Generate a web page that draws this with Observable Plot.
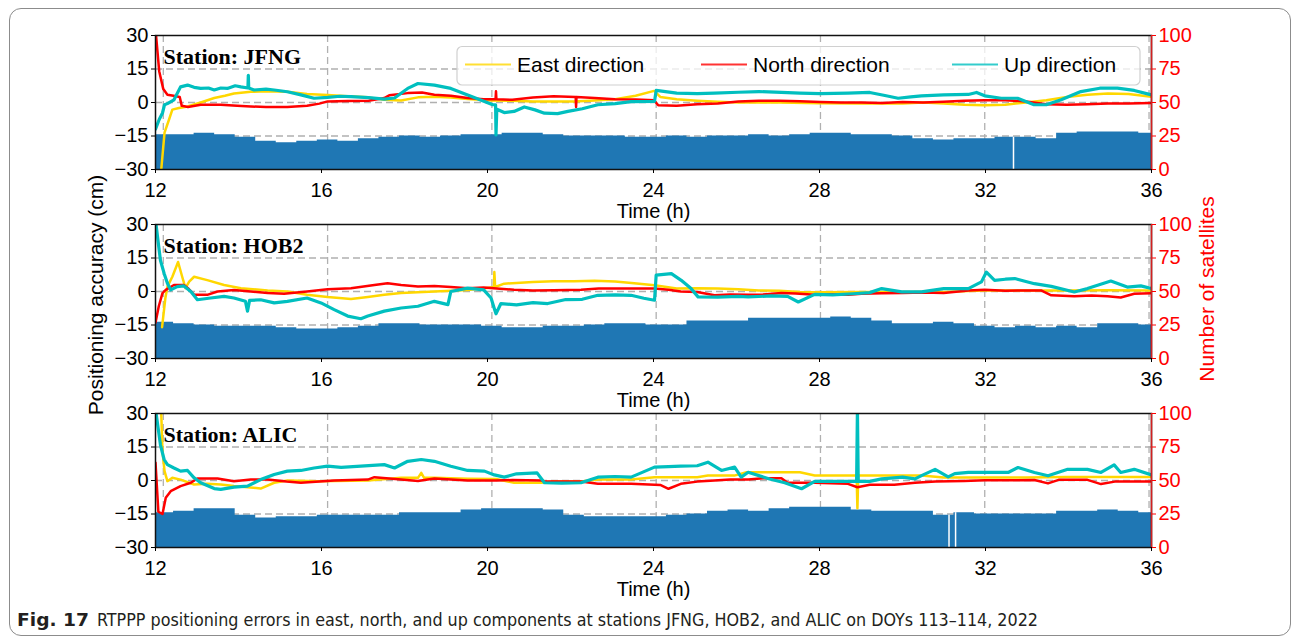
<!DOCTYPE html>
<html><head><meta charset="utf-8">
<script src="https://cdn.jsdelivr.net/npm/d3@7"></script>
<script src="https://cdn.jsdelivr.net/npm/@observablehq/plot@0.6"></script>
<style>
html,body{margin:0;padding:0;background:#fff;}
#fig{position:relative;width:1292px;height:643px;overflow:hidden;font-family:"Liberation Sans",Arial,sans-serif;}
#border{position:absolute;left:9px;top:8px;width:1282px;height:628px;border:1px solid #8c8c8c;border-radius:12px;box-sizing:border-box;}
.panel{position:absolute;left:0;width:1292px;height:224px;}
.panel svg{overflow:visible;}
#overlay{position:absolute;left:0;top:0;}
</style></head><body>
<div id="fig"><div id="border"></div></div>
<script>
// ---------- data (time in hours, errors in cm, satellites count) ----------
const stationNames = ["Station: JFNG", "Station: HOB2", "Station: ALIC"];
const seriesNames = ["East direction", "North direction", "Up direction"];
const xTickLabels = [12, 16, 20, 24, 28, 32, 36];
const yTickLabels = [-30, -15, 0, 15, 30];
const satTickLabels = [0, 25, 50, 75, 100];

const jfngEast = [[11.8,-40],[11.95,-30],[12.03,-13.5],[12.14,-7.6],[12.22,-3.2],[12.38,-2.5],[12.59,-1.8],[12.91,0],[13.24,2],[13.5,3],[13.72,4],[14.13,4.8],[14.5,5],[15.02,4.8],[15.5,3.8],[16,3.4],[16.5,2.8],[16.98,2.3],[17.38,1.2],[17.79,0.9],[18.2,2.3],[18.6,2.6],[19,2.2],[19.41,1.6],[19.98,0.9],[20.5,0.8],[21,0.5],[21.5,0.4],[22,0.5],[22.5,0.9],[23,1.5],[23.5,3],[23.95,5.2],[24.1,2.5],[24.5,1.5],[25,0.8],[25.5,0.3],[26,0],[27,0],[28,-0.3],[29,-0.5],[30,-0.5],[30.5,0],[31,-0.5],[31.5,-1],[32,-1.2],[32.5,-1],[33,0],[33.5,1],[34,2.5],[34.5,3.5],[35,4],[35.5,3.8],[36.06,2.5]];
const jfngNorth = [[11.8,35],[11.9,14],[12,6],[12.1,3.5],[12.25,3],[12.4,2.5],[12.45,-1.5],[12.6,-2],[12.91,-1],[13.4,-1],[13.8,-1.5],[14.13,-1.8],[14.5,-2],[15.02,-2],[15.5,-1.5],[15.8,-0.5],[16,0.5],[16.5,0.7],[17,0.8],[17.38,2],[17.5,3.2],[17.95,4.2],[18.3,4.5],[18.6,3.5],[19,3],[19.41,2],[19.8,1.5],[20.09,1.5],[20.1,5],[20.11,1.5],[20.5,1.2],[21,2.2],[21.5,2.8],[22.04,2.5],[22.05,-2],[22.06,2.5],[22.5,2],[23,1.5],[23.5,1.3],[23.95,1],[24.05,-1.2],[24.5,-1.5],[25,-0.8],[25.5,-0.5],[26,0.5],[26.5,0.8],[27,0.8],[27.5,0.6],[28,0.2],[28.5,0],[29,0],[29.5,-0.2],[30,0.2],[30.5,0],[31,0.3],[31.5,0.8],[32,1],[32.5,1],[33,0.5],[33.5,-0.8],[34,-1],[34.5,-0.8],[35,-0.5],[35.5,-0.4],[36.06,-0.2]];
const jfngUp = [[11.81,-12],[11.9,-7.6],[11.98,-4.7],[12.03,-1],[12.1,-0.5],[12.26,1.2],[12.42,7],[12.59,7.8],[12.75,6.8],[12.91,6.3],[13.1,6.5],[13.24,5.6],[13.4,6.5],[13.56,6.3],[13.75,7.5],[13.89,7],[14.06,6.5],[14.07,12.2],[14.08,6.5],[14.21,5.6],[14.5,6],[14.7,5.6],[15.02,4.8],[15.35,3.4],[15.67,1.9],[16,2.3],[16.3,2.8],[16.57,2.6],[17,2.2],[17.38,1.5],[17.63,2],[17.95,6.3],[18.2,8.5],[18.6,7.8],[19,6.3],[19.41,3.4],[19.82,0.4],[20.02,-1],[20.09,-1],[20.1,-14.5],[20.12,-3],[20.3,-4.5],[20.54,-4],[20.79,-2],[21.05,-3.3],[21.28,-4.8],[21.6,-5],[21.85,-4],[22.2,-2.8],[22.58,-1],[23,-0.5],[23.39,0.4],[23.96,0.5],[24.0,5.4],[24.5,4.2],[25,4],[25.42,4.2],[26,4.6],[26.5,4.9],[27.05,4.5],[27.5,4.2],[28,4],[28.67,4.2],[29.2,4.5],[29.6,3],[29.89,1.9],[30.2,2.5],[30.46,3],[31,3.4],[31.6,3.6],[31.8,4.5],[32,3],[32.4,1.9],[32.8,1.9],[33.2,-1],[33.5,-1],[33.86,1.2],[34.34,4.9],[34.8,6.4],[35.23,6.4],[35.64,5.4],[36.06,3.4]];
const jfngSats = [26,26,27,26,24,21,20,21,22,21,23,24,25,24,25,26,26,27,27,26,25,25,25,24,24,25,24,25,25,26,25,26,27,27,26,26,25,23,22,23,23,24,24,23,27,28,28,28,27];
const jfngGaps = [32.7];

const hob2East = [[11.97,-16],[12.05,-3],[12.1,2.2],[12.22,6.6],[12.36,13.2],[12.46,6.6],[12.54,1.5],[12.63,4.4],[12.75,6.6],[13.07,5.1],[13.48,2.9],[13.89,1.5],[14.54,0.4],[15.02,0],[15.5,-1.5],[16,-2.5],[16.57,-3.4],[16.98,-2.5],[17.38,-1.5],[17.79,-0.7],[18.6,0],[19.41,0.7],[19.82,1.5],[20.05,2],[20.06,8.7],[20.08,2],[20.3,3.5],[21,4.2],[21.5,4.6],[22,4.6],[22.5,4.8],[23,4.5],[23.4,3.8],[23.96,2.8],[24.5,1.3],[25,1.5],[25.5,1.3],[26,1.0],[26.5,0.5],[27,0.3],[27.5,-0.2],[28,-0.3],[29,-0.2],[30,-0.2],[31,-0.2],[31.6,0.2],[32,0.5],[33,0.5],[34,0.5],[35,0.6],[36.06,0.5]];
const hob2North = [[11.81,-14],[11.89,-6.6],[11.98,-0.7],[12.06,0.7],[12.26,2.9],[12.5,2.9],[12.6,1.5],[12.75,-1.5],[13.07,-1.5],[13.32,0],[13.72,0.7],[14.13,0],[14.54,-0.7],[14.94,-1],[15.5,0],[16,1],[16.57,1.5],[17.14,2.9],[17.46,3.7],[17.79,2.9],[18.2,2.2],[18.6,2.5],[19,2],[19.41,1.5],[19.8,1.8],[20.2,1.2],[20.54,0.8],[21,0.5],[21.5,0.6],[22.17,0.8],[22.6,1.3],[23.2,1.3],[23.96,1.3],[24.3,0.8],[24.6,0],[25,-0.2],[25.42,-1.7],[25.8,-1.3],[26.24,-1.5],[26.6,-1.3],[27.05,-0.7],[27.4,-0.9],[27.86,-1.5],[28.2,-1.2],[28.67,-1.5],[29,-1],[29.49,-0.8],[30,-0.7],[30.5,-0.5],[31,-0.7],[31.6,0.5],[32,0.8],[32.5,0.3],[33,0.5],[33.37,0.5],[33.62,-1.7],[34.18,-2.1],[34.6,-1.8],[34.99,-2.1],[35.31,-2.7],[35.64,-1],[36.06,-0.8]];
const hob2Up = [[11.81,32],[11.89,19.9],[11.93,14],[12.02,8.1],[12.1,3.7],[12.18,0.7],[12.34,2.2],[12.5,2.5],[12.67,0],[12.83,-3.7],[13.15,-2.9],[13.48,-2.2],[13.72,-2.9],[14.0,-4.4],[14.05,-8.8],[14.1,-4],[14.37,-3.7],[14.7,-5.1],[15.02,-4.4],[15.5,-2.9],[15.84,-5.1],[16.16,-8.1],[16.49,-11],[16.81,-12.2],[16.98,-11],[17.38,-8.8],[17.79,-7.4],[18.2,-6.6],[18.6,-4.4],[18.93,-5.9],[19.0,0],[19.41,1.5],[19.8,0.7],[19.98,-2.9],[20.06,-7.7],[20.1,-10],[20.22,-5.4],[20.6,-6],[21,-5],[21.36,-5.4],[21.8,-3.6],[22.2,-3.5],[22.58,-1.7],[23,-1.5],[23.39,-1.7],[23.7,-3],[23.96,-3.9],[24.0,7.3],[24.37,8],[24.61,5],[24.85,1.3],[25.02,-2.4],[25.5,-2.5],[26,-2.2],[26.24,-2.4],[26.8,-2.0],[27.2,-2.2],[27.46,-4.7],[27.86,-1.3],[28.3,-1.5],[28.8,-1.0],[29.2,-0.5],[29.49,1.3],[29.98,-0.2],[30.46,-0.2],[31,1.3],[31.6,1.3],[31.92,4.3],[32.04,8.7],[32.24,5],[32.5,5.5],[32.73,5.8],[33.0,4.5],[33.21,3.5],[33.62,2.3],[34.18,-0.2],[34.5,1.3],[35.07,4.7],[35.47,2],[35.8,2.5],[36.06,1.3]];
const hob2Sats = [27,26,25,24,24,24,23,22,22,23,24,26,26,25,25,25,24,23,23,24,24,25,26,26,25,25,28,28,28,30,30,30,30,31,30,28,26,26,27,26,24,23,24,23,24,23,26,26,25];
const hob2Gaps = [];

const alicEast = [[11.81,32],[11.95,30],[11.98,13],[12.03,4.2],[12.1,-0.3],[12.22,1.2],[12.42,0.4],[12.75,-1.8],[13.07,-1.5],[13.4,-1.8],[13.72,-2.5],[14.05,-3],[14.37,-3.6],[14.7,-1],[15.02,0],[15.76,-0.3],[16.98,0],[17.79,1.2],[18.2,1.2],[18.28,3.4],[18.35,1.2],[18.6,1.2],[19.41,0.8],[20.1,0.7],[20.54,-1],[21.2,-1],[21.5,-0.4],[22.17,-0.4],[22.6,0.4],[23.39,0.4],[23.96,1.5],[25,1.5],[25.26,2.2],[25.9,2.2],[26.2,3.7],[27.5,3.7],[27.86,2.2],[28.67,2.2],[28.88,2.2],[28.9,-12.4],[28.92,2.2],[29.5,2.2],[30.46,2.2],[31,1.3],[32,1.3],[33,1.3],[34,1.6],[35,1.6],[36.06,1.6]];
const alicNorth = [[11.81,8],[11.88,-14],[11.98,-15],[12.06,-7.7],[12.18,-4.8],[12.42,-2.5],[12.67,-1],[12.83,0.9],[13.32,0.9],[13.72,-0.3],[14.13,0.4],[14.54,0.4],[15,-0.5],[15.35,-1],[16.16,0],[16.98,0.4],[17.14,1.5],[17.79,0.4],[18.2,-0.2],[18.6,0.9],[19.41,0],[20.1,0],[20.5,0.2],[21.2,0],[21.28,-0.4],[22.17,-0.4],[22.58,-1.5],[23.39,-1.5],[23.96,-1.9],[24.1,-2],[24.3,-3.7],[24.6,-1.5],[25,-0.5],[25.42,0],[25.8,0.4],[26.24,0.5],[26.6,1],[27.05,1],[27.2,-1],[27.86,-1],[28.67,-1.5],[28.9,-3],[29.2,-1.9],[29.8,-1.9],[30.3,-1],[30.8,-0.4],[31.5,-0.2],[32,0.1],[32.8,0.1],[33.21,0.2],[33.54,-1.3],[33.8,0.3],[34.5,0.3],[34.83,-1.6],[35.2,-0.4],[35.6,-0.4],[36.06,-0.4]];
const alicUp = [[11.81,32],[11.93,16],[12.02,9.4],[12.1,7.1],[12.26,5.6],[12.42,4.2],[12.59,4.5],[12.75,1.2],[12.91,-1],[13.24,-3.6],[13.4,-4],[13.72,-3],[14.05,-2.5],[14.37,0.4],[14.7,2.7],[15.02,4.2],[15.35,4.5],[15.67,5.6],[16,6.4],[16.33,5.9],[16.81,6.4],[17.38,7.1],[17.63,5.6],[17.95,8.6],[18.28,9.4],[18.6,8.6],[19,6.4],[19.41,4.5],[19.82,4.2],[20.06,2.5],[20.3,1.5],[20.6,3],[21.1,3.4],[21.28,-1],[21.7,-1.2],[22.17,-1],[22.58,1.5],[23.0,1.8],[23.39,1.5],[23.96,6],[24.3,6.2],[24.6,6.4],[25,6.6],[25.26,8.2],[25.59,4.5],[25.91,6],[26.07,1.5],[26.24,3.7],[26.76,0.7],[27.13,-1],[27.54,-3.7],[27.86,-0.4],[28.3,-0.4],[28.67,-0.4],[28.88,-0.4],[28.9,32],[28.92,-0.4],[29.2,-0.4],[29.49,0.7],[30,1.5],[30.3,0.7],[30.46,2.2],[30.79,5],[31.11,1.6],[31.27,3.1],[31.6,3.6],[32.57,3.6],[32.81,5.8],[33.21,3.6],[33.54,2.1],[34.02,5],[34.5,5],[34.83,3.6],[35.15,7],[35.31,3.6],[35.64,5],[36.06,2.5]];
const alicSats = [26,27,29,29,24,22,23,23,24,24,24,24,26,26,26,28,29,29,29,28,24,23,23,23,23,24,25,27,28,27,29,30,30,30,28,27,27,27,24,26,25,25,25,25,27,27,28,27,26];
const alicGaps = [31.13, 31.29];

const seriesColors = ["#FFD700", "#FF0000", "#00BFBF"];
const satStart = 11.75, satStep = 0.5;

// ---------- scales helpers ----------
const xDomain = [11.81, 36.06];
const yDomain = [-30, 30];
const satToY = s => -30 + s * 0.6;          // right axis 0..100 onto left -30..30
const yToSat = y => Math.round((y + 30) / 0.6);
const labelPos = L => xDomain[0] + (L - 12) * (xDomain[1] - xDomain[0]) / 24;
const posLabel = p => Math.round(12 + (p - xDomain[0]) * 24 / (xDomain[1] - xDomain[0]));
const gridX = d3.range(12, 36.001, 4);
const gridY = [-15, 0, 15];

const stations = [
  {name: stationNames[0], series: [jfngEast, jfngNorth, jfngUp], sats: jfngSats, gaps: jfngGaps},
  {name: stationNames[1], series: [hob2East, hob2North, hob2Up], sats: hob2Sats, gaps: hob2Gaps},
  {name: stationNames[2], series: [alicEast, alicNorth, alicUp], sats: alicSats, gaps: alicGaps}
];
const panelTops = [0, 189, 378];
const FONT = "'Liberation Sans', Arial, Helvetica, sans-serif";
const fig = document.getElementById("fig");

stations.forEach((st, i) => {
  const satPts = st.sats.map((s, k) => ({t: satStart + k * satStep, y: satToY(s)}));
  satPts.push({t: satStart + st.sats.length * satStep, y: satToY(st.sats[st.sats.length - 1])});
  const gapPts = st.gaps.map(t => ({t, y: satToY(st.sats[Math.floor((t - satStart) / satStep)])}));
  const lineMarks = st.series.map((arr, k) => Plot.line(arr.map(([t, v]) => ({t, v})), {
    x: "t", y: "v", stroke: seriesColors[k], strokeWidth: k === 2 ? 3.2 : 2.5, clip: true, strokeLinejoin: "round"
  }));
  const svg = Plot.plot({
    width: 1292, height: 224,
    marginLeft: 155, marginRight: 141, marginTop: 35, marginBottom: 55,
    x: {domain: xDomain},
    y: {domain: yDomain},
    style: {fontFamily: FONT, fontSize: "20px", color: "#000", background: "transparent", overflow: "visible"},
    marks: [
      Plot.ruleX(gridX, {stroke: "#b0b0b0", strokeWidth: 1.3, strokeDasharray: "7,4"}),
      Plot.ruleY(gridY, {stroke: "#b0b0b0", strokeWidth: 1.3, strokeDasharray: "7,4"}),
      Plot.areaY(satPts, {x: "t", y1: -30, y2: "y", curve: "step-after", fill: "#1f77b4", clip: true}),
      Plot.ruleX(gapPts, {x: "t", y1: -30, y2: "y", stroke: "white", strokeWidth: 1.5}),
      ...lineMarks,
      Plot.frame({stroke: "#111", strokeWidth: 1.5}),
      Plot.ruleX([xDomain[1]], {stroke: "#d42020", strokeWidth: 1.5}),
      Plot.axisY(yTickLabels, {anchor: "left", tickSize: 4, tickPadding: 3, label: null, fontSize: 20}),
      Plot.axisY(satTickLabels.map(satToY), {anchor: "right", tickSize: 4, tickPadding: 3, label: null,
        tickFormat: yToSat, color: "#ff0000", fontSize: 20}),
      Plot.axisX(xTickLabels.map(labelPos), {anchor: "bottom", tickSize: 4, tickPadding: 9, label: null,
        tickFormat: posLabel, fontSize: 20}),
      Plot.text(["Time (h)"], {text: d => d, frameAnchor: "bottom", dy: 42, fontSize: 20, lineAnchor: "middle"}),
      Plot.text([st.name], {text: d => d, frameAnchor: "top-left", dx: 8, dy: 21, textAnchor: "start",
        lineAnchor: "middle", fontFamily: "'Liberation Serif', 'Times New Roman', serif", fontWeight: "bold", fontSize: 22})
    ]
  });
  const div = document.createElement("div");
  div.className = "panel";
  div.style.top = panelTops[i] + "px";
  div.appendChild(svg);
  fig.appendChild(div);
});

// ---------- overlay: shared axis titles, legend, caption ----------
const ov = d3.select(fig).append("svg").attr("id", "overlay").attr("width", 1292).attr("height", 643)
  .style("font-family", FONT);
ov.append("text").attr("transform", "translate(97,295) rotate(-90)").attr("text-anchor", "middle")
  .attr("dominant-baseline", "middle").attr("font-size", 21).attr("fill", "#000").text("Positioning accuracy (cm)");
ov.append("text").attr("transform", "translate(1208,289) rotate(-90)").attr("text-anchor", "middle")
  .attr("dominant-baseline", "middle").attr("font-size", 21).attr("fill", "#ff0000").text("Number of satellites");

// legend (panel 1)
const lg = ov.append("g");
lg.append("rect").attr("x", 457).attr("y", 46.5).attr("width", 683).attr("height", 38.5).attr("rx", 5)
  .attr("fill", "white").attr("fill-opacity", 0.75).attr("stroke", "#d0d0d0").attr("stroke-width", 1.2);
const legendX = [465, 701, 952];
seriesNames.forEach((nm, k) => {
  lg.append("line").attr("x1", legendX[k]).attr("x2", legendX[k] + 46).attr("y1", 64.5).attr("y2", 64.5)
    .attr("stroke", seriesColors[k]).attr("stroke-width", 2).attr("stroke-opacity", 0.8);
  lg.append("text").attr("x", legendX[k] + 52).attr("y", 72).attr("font-size", 21).attr("fill", "#000").text(nm);
});

// caption
const capFont = "'Liberation Sans Narrow', 'DejaVu Sans Condensed', 'Liberation Sans', sans-serif";
ov.append("text").attr("x", 17).attr("y", 626).attr("font-family", capFont).attr("font-size", 17)
  .attr("font-weight", "bold").attr("fill", "#231f20").attr("textLength", 72).attr("lengthAdjust", "spacingAndGlyphs")
  .text("Fig. 17");
ov.append("text").attr("x", 97).attr("y", 626).attr("font-family", capFont).attr("font-size", 17)
  .attr("fill", "#231f20").attr("textLength", 941).attr("lengthAdjust", "spacingAndGlyphs")
  .text("RTPPP positioning errors in east, north, and up components at stations JFNG, HOB2, and ALIC on DOYs 113–114, 2022");
</script>
</body></html>
